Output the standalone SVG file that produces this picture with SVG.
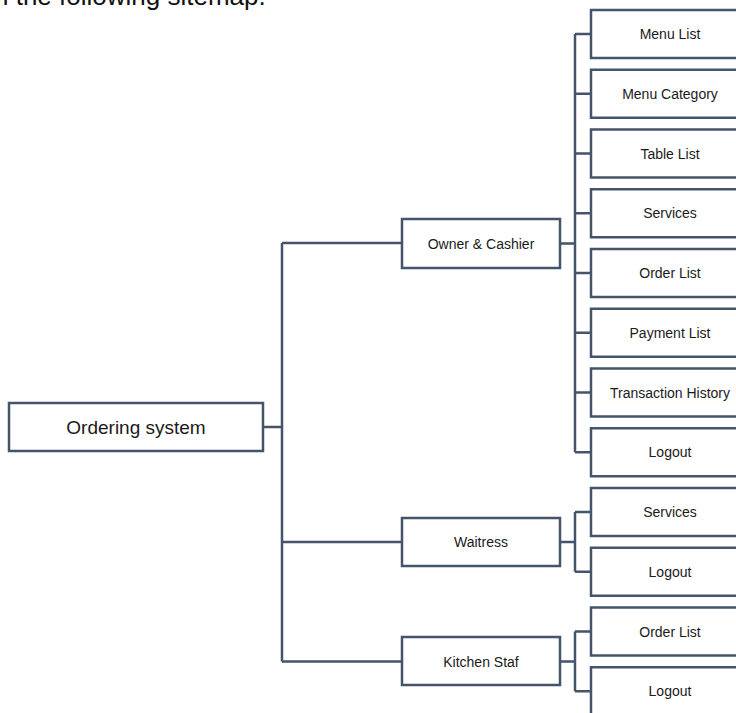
<svg xmlns="http://www.w3.org/2000/svg" width="736" height="713" viewBox="0 0 736 713">
  <style>
    .box { fill: #ffffff; stroke: #44546a; stroke-width: 2.5; }
    .wire { fill: none; stroke: #44546a; stroke-width: 2.5; }
    text { font-family: "Liberation Sans", Arial, sans-serif; fill: #1a1a1a; text-anchor: middle; }
    .leaf { font-size: 14px; }
    .root { font-size: 19px; }
    .intro { font-size: 26px; text-anchor: start; fill: #111111; }
  </style>
  <rect width="736" height="713" fill="#ffffff"/>

  <!-- lead-in sentence, clipped by the top edge -->
  <text class="intro" x="-6" y="5">n the following sitemap.</text>

  <!-- connectors -->
  <g id="connectors" class="wire">
    <!-- root trunk -->
    <path d="M263 427H282M282 243V661.5M282 243H402M282 542H402M282 661.5H402"/>
    <!-- owner & cashier branch -->
    <path d="M560 243.5H575M575 34V452.25"/>
    <path d="M575 34H591M575 93.75H591M575 153.5H591M575 213.25H591M575 273H591M575 332.75H591M575 392.5H591M575 452.25H591"/>
    <!-- waitress branch -->
    <path d="M560 542H575M575 512V571.75M575 512H591M575 571.75H591"/>
    <!-- kitchen branch -->
    <path d="M560 661.5H575M575 631.5V691.25M575 631.5H591M575 691.25H591"/>
  </g>

  <!-- root -->
  <g id="ordering-system">
    <rect class="box" x="9" y="403" width="254" height="48"/>
    <text class="root" x="136" y="433.5">Ordering system</text>
  </g>

  <!-- roles -->
  <g id="owner-cashier">
    <rect class="box" x="402" y="219" width="158" height="49"/>
    <text class="leaf" x="481" y="248.5">Owner &amp; Cashier</text>
  </g>
  <g id="waitress">
    <rect class="box" x="402" y="518" width="158" height="48"/>
    <text class="leaf" x="481" y="547">Waitress</text>
  </g>
  <g id="kitchen-staf">
    <rect class="box" x="402" y="637" width="158" height="48"/>
    <text class="leaf" x="481" y="666.5">Kitchen Staf</text>
  </g>

  <!-- owner & cashier pages -->
  <g id="menu-list">
    <rect class="box" x="591" y="10" width="158" height="48"/>
    <text class="leaf" x="670" y="39">Menu List</text>
  </g>
  <g id="menu-category">
    <rect class="box" x="591" y="69.75" width="158" height="48"/>
    <text class="leaf" x="670" y="98.75">Menu Category</text>
  </g>
  <g id="table-list">
    <rect class="box" x="591" y="129.5" width="158" height="48"/>
    <text class="leaf" x="670" y="158.5">Table List</text>
  </g>
  <g id="services-owner">
    <rect class="box" x="591" y="189.25" width="158" height="48"/>
    <text class="leaf" x="670" y="218.25">Services</text>
  </g>
  <g id="order-list-owner">
    <rect class="box" x="591" y="249" width="158" height="48"/>
    <text class="leaf" x="670" y="278">Order List</text>
  </g>
  <g id="payment-list">
    <rect class="box" x="591" y="308.75" width="158" height="48"/>
    <text class="leaf" x="670" y="337.75">Payment List</text>
  </g>
  <g id="transaction-history">
    <rect class="box" x="591" y="368.5" width="158" height="48"/>
    <text class="leaf" x="670" y="397.5">Transaction History</text>
  </g>
  <g id="logout-owner">
    <rect class="box" x="591" y="428.25" width="158" height="48"/>
    <text class="leaf" x="670" y="457.25">Logout</text>
  </g>

  <!-- waitress pages -->
  <g id="services-waitress">
    <rect class="box" x="591" y="488" width="158" height="48"/>
    <text class="leaf" x="670" y="517">Services</text>
  </g>
  <g id="logout-waitress">
    <rect class="box" x="591" y="547.75" width="158" height="48"/>
    <text class="leaf" x="670" y="576.75">Logout</text>
  </g>

  <!-- kitchen pages -->
  <g id="order-list-kitchen">
    <rect class="box" x="591" y="607.5" width="158" height="48"/>
    <text class="leaf" x="670" y="636.5">Order List</text>
  </g>
  <g id="logout-kitchen">
    <rect class="box" x="591" y="667.25" width="158" height="48"/>
    <text class="leaf" x="670" y="696.25">Logout</text>
  </g>
</svg>
